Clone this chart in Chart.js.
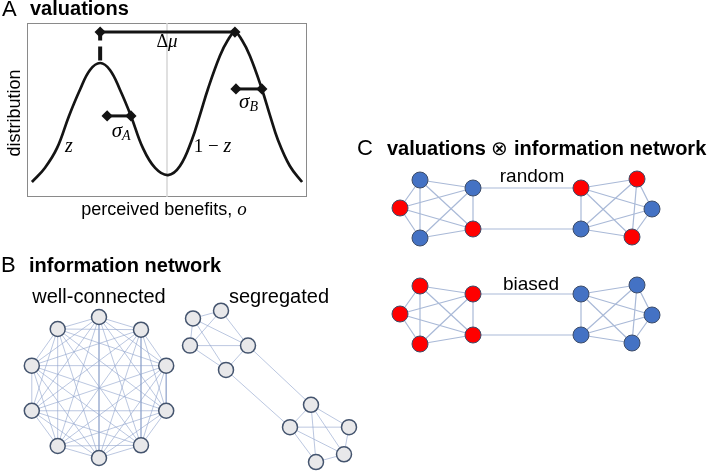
<!DOCTYPE html>
<html>
<head>
<meta charset="utf-8">
<script src="https://cdn.jsdelivr.net/npm/chart.js@4.4.1/dist/chart.umd.min.js"></script>
<style>
    html, body { margin: 0; padding: 0; background: #fff; }
    #fig { position: relative; width: 716px; height: 474px; overflow: hidden;
           font-family: "Liberation Sans", Arial, sans-serif; color: #000; }
    #fig canvas { position: absolute; left: 0; top: 0; }
    .t { position: absolute; white-space: nowrap; line-height: 1; }
    .letter { font-size: 22px; }
    .head { font-size: 20px; font-weight: bold; }
    .head .op { font-weight: normal; }
    .net { font-size: 20px; transform: translateX(-50%); }
    .net.small { font-size: 19px; }
</style>
</head>
<body>
<div id="fig">
    <canvas id="chartA" width="716" height="474"></canvas>
    <canvas id="chartFull" width="716" height="474"></canvas>
    <canvas id="chartSeg" width="716" height="474"></canvas>
    <canvas id="chartRandom" width="716" height="474"></canvas>
    <canvas id="chartBiased" width="716" height="474"></canvas>

    <div class="t letter" style="left:2px; top:-2px;">A</div>
    <div class="t head" style="left:30px; top:-2px;">valuations</div>
    <div class="t letter" style="left:1px; top:254px;">B</div>
    <div class="t head" style="left:29px; top:255px;">information network</div>
    <div class="t letter" style="left:357px; top:137px;">C</div>
    <div class="t head" style="left:387px; top:138px;">valuations <span class="op">⊗</span> information network</div>

    <div class="t net" style="left:99px; top:286px;">well-connected</div>
    <div class="t net" style="left:279px; top:286px;">segregated</div>
    <div class="t net small" style="left:532px; top:166px;">random</div>
    <div class="t net small" style="left:531px; top:274px;">biased</div>
</div>

<script>
// ---- Panel A : valuations ----
const benefitX = [-3.86, -3.49, -3.14, -2.80, -2.49, -2.20, -1.91, -1.63, -1.34, -1.03, -0.69, -0.34, 0.03,
                  0.37, 0.71, 0.94, 1.17, 1.51, 1.74, 1.94, 2.14, 2.37, 2.71, 2.94, 3.17, 3.51, 3.86];
const distribution = [0.086, 0.167, 0.282, 0.466, 0.615, 0.730, 0.770, 0.730, 0.615, 0.466, 0.282, 0.167, 0.126,
                      0.178, 0.328, 0.471, 0.621, 0.810, 0.902, 0.948, 0.902, 0.810, 0.621, 0.471, 0.328, 0.178, 0.086];
const peakA = [-1.91, 0.770];
const peakB = [1.94, 0.948];
const sigmaA = [-1.71, -1.03, 0.466];   // x from, x to, y
const sigmaB = [1.97, 2.71, 0.621];

// ---- Panel B : well-connected (10 nodes, every pair linked) ----
const fullX = [0, 0.60, 0.96, 0.96, 0.60, 0, -0.59, -0.96, -0.96, -0.59];
const fullY = [1.0, 0.82, 0.31, -0.33, -0.82, -1.0, -0.83, -0.33, 0.31, 0.83];

// ---- Panel B : segregated ----
const segX = [1.3, 4.1, 1.0, 6.8, 4.6, 13.1, 11.0, 16.9, 16.4, 13.6];
const segY = [15.1, 15.9, 12.3, 12.3, 9.8, 6.2, 3.9, 3.9, 1.1, 0.3];
const segEdges = [[0, 1], [0, 2], [0, 3], [0, 4], [1, 2], [1, 3], [2, 3], [2, 4], [3, 4],
                  [5, 6], [5, 7], [5, 8], [5, 9], [6, 7], [6, 8], [6, 9], [7, 8], [8, 9],
                  [3, 5], [4, 6]];

// ---- Panel C : two clusters joined by two links ----
const pairX = [-10.7, -12.7, -10.7, -5.4, -5.4, 5.4, 11.0, 12.5, 5.4, 10.5];
const pairY = [2.8, 0.0, -3.0, 2.0, -2.1, 2.0, 2.9, -0.1, -2.1, -2.9];
const pairEdges = [[0, 1], [0, 2], [0, 3], [0, 4], [1, 2], [1, 3], [1, 4], [2, 3], [2, 4], [3, 4],
                   [5, 6], [5, 7], [5, 8], [5, 9], [6, 7], [6, 8], [6, 9], [7, 8], [7, 9], [8, 9],
                   [3, 5], [4, 8]];
const BLUE = '#4472C4';
const RED = '#FF0000';
const randomColors = [BLUE, RED, BLUE, BLUE, RED, RED, RED, BLUE, BLUE, RED];
const biasedColors = [RED, RED, RED, RED, RED, BLUE, BLUE, BLUE, BLUE, BLUE];

const SANS = '"Liberation Sans", Arial, sans-serif';
const SERIF = '"Liberation Serif", "DejaVu Serif", serif';
const INK = '#141414';

Chart.defaults.animation = false;
Chart.defaults.events = [];
Chart.defaults.plugins.legend.display = false;
Chart.defaults.plugins.tooltip.enabled = false;

function pts(xs, ys) {
    return xs.map((x, i) => ({ x: x, y: ys[i] }));
}

// draw a run of text pieces (different fonts) centred on cx
function drawRun(ctx, runs, cx, y) {
    let w = 0;
    runs.forEach(r => { ctx.font = r.font; r.w = ctx.measureText(r.t).width; w += r.w; });
    let x = cx - w / 2;
    ctx.textAlign = 'left';
    ctx.textBaseline = 'alphabetic';
    runs.forEach(r => { ctx.font = r.font; ctx.fillText(r.t, x, y + (r.dy || 0)); x += r.w; });
}

const panelADecor = {
    id: 'panelADecor',
    beforeDatasetsDraw(chart) {
        const a = chart.chartArea, ctx = chart.ctx;
        ctx.save();
        ctx.strokeStyle = '#8a8a8a';
        ctx.lineWidth = 1;
        ctx.strokeRect(a.left + 0.5, a.top + 0.5, a.right - a.left - 1, a.bottom - a.top - 1);
        ctx.restore();
    },
    afterDatasetsDraw(chart) {
        const ctx = chart.ctx, a = chart.chartArea;
        const sx = chart.scales.x, sy = chart.scales.y;
        const X = v => sx.getPixelForValue(v), Y = v => sy.getPixelForValue(v);
        ctx.save();
        ctx.fillStyle = '#000';
        const it = sz => 'italic ' + sz + 'px ' + SERIF;
        const up = sz => sz + 'px ' + SERIF;
        drawRun(ctx, [{ t: 'z', font: it(20) }], X(-2.8), Y(0.259));
        drawRun(ctx, [{ t: '1 \u2212 ', font: up(19) }, { t: 'z', font: it(20) }], X(1.3), Y(0.259));
        drawRun(ctx, [{ t: '\u0394', font: up(18) }, { t: '\u03BC', font: it(19) }], X(0.0), Y(0.862));
        drawRun(ctx, [{ t: '\u03C3', font: it(21) }, { t: 'A', font: it(14), dy: 3 }], X(-1.31), Y(0.345));
        drawRun(ctx, [{ t: '\u03C3', font: it(21) }, { t: 'B', font: it(14), dy: 3 }], X(2.33), Y(0.511));

        // axis titles
        ctx.font = '18px ' + SANS;
        ctx.textAlign = 'center';
        ctx.textBaseline = 'middle';
        ctx.save();
        ctx.translate(a.left - 12, (a.top + a.bottom) / 2 + 3);
        ctx.rotate(-Math.PI / 2);
        ctx.fillText('distribution', 0, 0);
        ctx.restore();
        drawRun(ctx, [{ t: 'perceived benefits, ', font: '18px ' + SANS }, { t: 'o', font: it(19) }],
                (a.left + a.right) / 2 - 3, a.bottom + 18);
        ctx.restore();
    }
};

new Chart(document.getElementById('chartA'), {
    type: 'scatter',
    data: {
        datasets: [
            // Δμ bracket
            { data: [{ x: peakA[0], y: peakB[1] }, { x: peakB[0], y: peakB[1] }], showLine: true,
              borderColor: INK, borderWidth: 3, pointStyle: 'rectRot', pointRadius: 3.5,
              pointBackgroundColor: INK, pointBorderColor: INK, clip: false, order: 0 },
            { data: [{ x: peakA[0], y: 0.785 }, { x: peakA[0], y: peakB[1] }], showLine: true,
              borderColor: INK, borderWidth: 4, borderDash: [14, 6], pointRadius: 0, clip: false, order: 0 },
            // widths
            { data: [{ x: sigmaA[0], y: sigmaA[2] }, { x: sigmaA[1], y: sigmaA[2] }], showLine: true,
              borderColor: INK, borderWidth: 3, pointStyle: 'rectRot', pointRadius: 3.5,
              pointBackgroundColor: INK, pointBorderColor: INK, clip: false, order: 0 },
            { data: [{ x: sigmaB[0], y: sigmaB[2] }, { x: sigmaB[1], y: sigmaB[2] }], showLine: true,
              borderColor: INK, borderWidth: 3, pointStyle: 'rectRot', pointRadius: 3.5,
              pointBackgroundColor: INK, pointBorderColor: INK, clip: false, order: 0 },
            // bimodal distribution
            { data: pts(benefitX, distribution), showLine: true, borderColor: INK, borderWidth: 2.7,
              tension: 0.4, pointRadius: 0, clip: false, order: 1 },
            // middle reference
            { data: [{ x: 0, y: 0 }, { x: 0, y: 1 }], showLine: true, borderColor: '#d6d6d6',
              borderWidth: 1.5, pointRadius: 0, order: 5 }
        ]
    },
    options: {
        responsive: false,
        layout: { padding: { left: 27, right: 409, top: 23, bottom: 277 } },
        scales: {
            x: { type: 'linear', min: -4, max: 4, display: false },
            y: { type: 'linear', min: 0, max: 1, display: false }
        }
    },
    plugins: [panelADecor]
});

function networkChart(id, xs, ys, edges, fills, cfg) {
    const nodes = pts(xs, ys);
    const datasets = [{
        data: nodes, pointRadius: cfg.r, pointBackgroundColor: fills,
        pointBorderColor: cfg.stroke, pointBorderWidth: cfg.strokeW, clip: false
    }];
    edges.forEach(e => {
        datasets.push({
            data: [nodes[e[0]], nodes[e[1]]], showLine: true, pointRadius: 0,
            borderColor: cfg.edge, borderWidth: cfg.edgeW, clip: false
        });
    });
    return new Chart(document.getElementById(id), {
        type: 'scatter',
        data: { datasets: datasets },
        options: {
            responsive: false,
            layout: { padding: cfg.pad },
            scales: {
                x: { type: 'linear', min: cfg.xr[0], max: cfg.xr[1], display: false },
                y: { type: 'linear', min: cfg.yr[0], max: cfg.yr[1], display: false }
            }
        }
    });
}

// complete graph for the well-connected network
const fullEdges = [];
for (let i = 0; i < fullX.length; i++) {
    for (let j = i + 1; j < fullX.length; j++) fullEdges.push([i, j]);
}

const greyNode = { r: 7.5, stroke: '#44546E', strokeW: 1.5, edge: 'rgba(145,165,205,0.62)', edgeW: 1 };

networkChart('chartFull', fullX, fullY, fullEdges, '#E8E8EA',
    Object.assign({}, greyNode, { xr: [-1, 1], yr: [-1, 1], pad: { left: 29, right: 547, top: 317, bottom: 16 } }));

networkChart('chartSeg', segX, segY, segEdges, '#E8E8EA',
    Object.assign({}, greyNode, { xr: [0, 18], yr: [0, 17], pad: { left: 180, right: 356, top: 300, bottom: 4 } }));

const colourNode = { r: 8, stroke: '#3D4C68', strokeW: 1, edge: '#A9B9D7', edgeW: 1.2, xr: [-14, 14], yr: [-4, 4] };

networkChart('chartRandom', pairX, pairY, pairEdges, randomColors,
    Object.assign({}, colourNode, { pad: { left: 387, right: 49, top: 168, bottom: 226 } }));

networkChart('chartBiased', pairX, pairY, pairEdges, biasedColors,
    Object.assign({}, colourNode, { pad: { left: 387, right: 49, top: 274, bottom: 120 } }));
</script>
</body>
</html>
